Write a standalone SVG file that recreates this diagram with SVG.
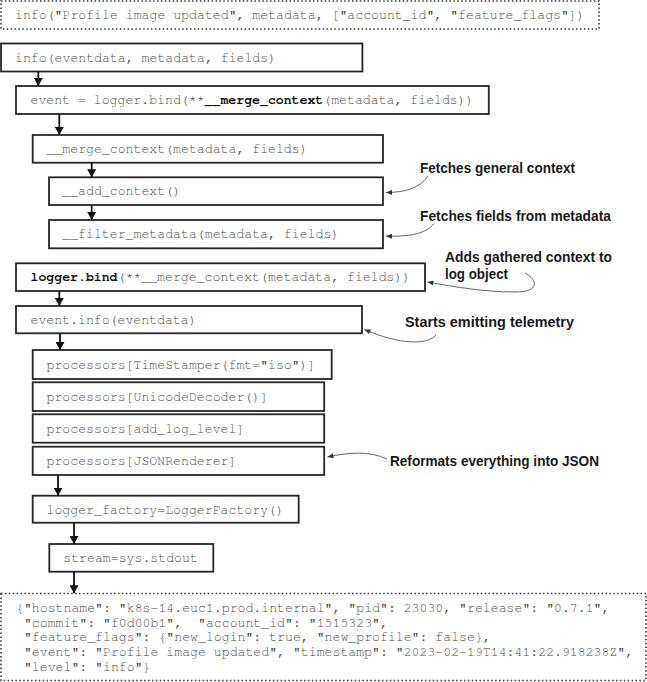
<svg xmlns="http://www.w3.org/2000/svg" width="647" height="682" viewBox="0 0 647 682">
  <style>
    .box { fill: #ffffff; stroke: #262626; stroke-width: 1.8; }
    .dot { fill: #ffffff; stroke: #333333; stroke-width: 1.6; stroke-dasharray: 1.5 2.4; }
    .mono { font-family: "Nimbus Mono PS", "FreeMono", "Liberation Mono", "Courier New", monospace; font-size: 13.2px; fill: #4a4a4a; }
    .b { font-weight: bold; fill: #111111; }
    .note { font-family: "Liberation Sans Narrow", "Liberation Sans", "DejaVu Sans Condensed", sans-serif; font-weight: bold; font-size: 14.8px; fill: #1a1a1a; }
    .conn { stroke: #111111; stroke-width: 1.8; fill: none; }
    .ann { stroke: #555555; stroke-width: 0.9; fill: none; }
  </style>
  <defs>
    <marker id="arr" markerUnits="userSpaceOnUse" markerWidth="8" markerHeight="9" refX="8" refY="4.5" orient="auto">
      <path d="M0,0 L8,4.5 L0,9 z" fill="#111111"/>
    </marker>
    <marker id="arrs" markerUnits="userSpaceOnUse" markerWidth="6" markerHeight="5" refX="6" refY="2.5" orient="auto">
      <path d="M0,0 L6,2.5 L0,5 z" fill="#333333"/>
    </marker>
  </defs>

  <g id="call">
    <rect class="dot" x="1" y="1" width="598" height="28"/>
    <text class="mono" x="15" y="19.3">info("Profile image updated", metadata, ["account_id", "feature_flags"])</text>
  </g>

  <g id="info">
    <rect class="box" x="1" y="43.5" width="361.4" height="28"/>
    <text class="mono" x="15" y="61.6">info(eventdata, metadata, fields)</text>
  </g>

  <g id="event-bind">
    <rect class="box" x="16" y="86" width="472.8" height="28"/>
    <text class="mono" x="30.5" y="104.3">event = logger.bind(**<tspan class="b">__merge_context</tspan>(metadata, fields))</text>
  </g>

  <g id="merge-context">
    <rect class="box" x="32.7" y="135" width="350.3" height="27.7"/>
    <text class="mono" x="46.5" y="153">__merge_context(metadata, fields)</text>
  </g>

  <g id="add-context">
    <rect class="box" x="49" y="177.3" width="334" height="27.7"/>
    <text class="mono" x="62.3" y="195.4">__add_context()</text>
  </g>

  <g id="filter-metadata">
    <rect class="box" x="49" y="220" width="334" height="28.3"/>
    <text class="mono" x="62.3" y="238.4">__filter_metadata(metadata, fields)</text>
  </g>

  <g id="logger-bind">
    <rect class="box" x="16" y="263.3" width="409" height="27.7"/>
    <text class="mono" x="30.5" y="281.3"><tspan class="b">logger.bind</tspan>(**__merge_context(metadata, fields))</text>
  </g>

  <g id="event-info">
    <rect class="box" x="16" y="306" width="346" height="27.3"/>
    <text class="mono" x="30.5" y="324">event.info(eventdata)</text>
  </g>

  <g id="proc-timestamper">
    <rect class="box" x="32.7" y="350" width="299" height="29"/>
    <text class="mono" x="46.5" y="368.8">processors[TimeStamper(fmt="iso")]</text>
  </g>

  <g id="proc-unicode">
    <rect class="box" x="32.7" y="382.3" width="291.5" height="28.7"/>
    <text class="mono" x="46.5" y="401">processors[UnicodeDecoder()]</text>
  </g>

  <g id="proc-loglevel">
    <rect class="box" x="32.7" y="414.3" width="291.5" height="28.4"/>
    <text class="mono" x="46.5" y="432.8">processors[add_log_level]</text>
  </g>

  <g id="proc-json">
    <rect class="box" x="32.7" y="446.7" width="291.5" height="28.3"/>
    <text class="mono" x="46.5" y="465">processors[JSONRenderer]</text>
  </g>

  <g id="logger-factory">
    <rect class="box" x="32.7" y="495.7" width="266" height="27"/>
    <text class="mono" x="46.5" y="513.5">logger_factory=LoggerFactory()</text>
  </g>

  <g id="stream">
    <rect class="box" x="49.3" y="544" width="164" height="27.7"/>
    <text class="mono" x="63.3" y="562">stream=sys.stdout</text>
  </g>

  <g id="output">
    <rect class="dot" x="1" y="593.5" width="645" height="87"/>
    <text class="mono" x="16" y="612" xml:space="preserve">{"hostname": "k8s-14.euc1.prod.internal", "pid": 23030, "release": "0.7.1",</text>
    <text class="mono" x="16" y="626.8" xml:space="preserve"> "commit": "f0d00b1",  "account_id": "1515323",</text>
    <text class="mono" x="16" y="641.4" xml:space="preserve"> "feature_flags": {"new_login": true, "new_profile": false},</text>
    <text class="mono" x="16" y="656.2" xml:space="preserve"> "event": "Profile image updated", "timestamp": "2023-02-19T14:41:22.918238Z",</text>
    <text class="mono" x="16" y="671" xml:space="preserve"> "level": "info"}</text>
  </g>

  <g id="annotations">
    <text class="note" x="420" y="172.5" textLength="155" lengthAdjust="spacingAndGlyphs">Fetches general context</text>
    <text class="note" x="420" y="221" textLength="191" lengthAdjust="spacingAndGlyphs">Fetches fields from metadata</text>
    <text class="note" x="445" y="262.3" textLength="167" lengthAdjust="spacingAndGlyphs">Adds gathered context to</text>
    <text class="note" x="445" y="278.5" textLength="63" lengthAdjust="spacingAndGlyphs">log object</text>
    <text class="note" x="405" y="327" textLength="169" lengthAdjust="spacingAndGlyphs">Starts emitting telemetry</text>
    <text class="note" x="390" y="465.7" textLength="209" lengthAdjust="spacingAndGlyphs">Reformats everything into JSON</text>
  </g>

  <g id="connectors">
    <line class="conn" x1="38.3" y1="71.5" x2="38.3" y2="86" marker-end="url(#arr)"/>
    <line class="conn" x1="59.3" y1="114" x2="59.3" y2="135" marker-end="url(#arr)"/>
    <line class="conn" x1="91.7" y1="162.7" x2="91.7" y2="177.3" marker-end="url(#arr)"/>
    <line class="conn" x1="91.7" y1="205" x2="91.7" y2="220" marker-end="url(#arr)"/>
    <line class="conn" x1="59.3" y1="291" x2="59.3" y2="306" marker-end="url(#arr)"/>
    <line class="conn" x1="60" y1="333.3" x2="60" y2="350" marker-end="url(#arr)"/>
    <line class="conn" x1="58" y1="475" x2="58" y2="495.7" marker-end="url(#arr)"/>
    <line class="conn" x1="74" y1="522.7" x2="74" y2="544" marker-end="url(#arr)"/>
    <line class="conn" x1="74" y1="571.7" x2="74" y2="593.3" marker-end="url(#arr)"/>

    <path class="ann" d="M428 176 C420 188 405 192.5 386 192.5" marker-end="url(#arrs)"/>
    <path class="ann" d="M434 223.5 C426 234 408 237 386 236" marker-end="url(#arrs)"/>
    <path class="ann" d="M525 273 C538 280 540 292 515 292 C485 292 455 287 427.5 282" marker-end="url(#arrs)"/>
    <path class="ann" d="M436 335 C428 345 400 345 364.5 329.5" marker-end="url(#arrs)"/>
    <path class="ann" d="M387 459 C370 451 350 452 327.5 457" marker-end="url(#arrs)"/>
  </g>
</svg>
